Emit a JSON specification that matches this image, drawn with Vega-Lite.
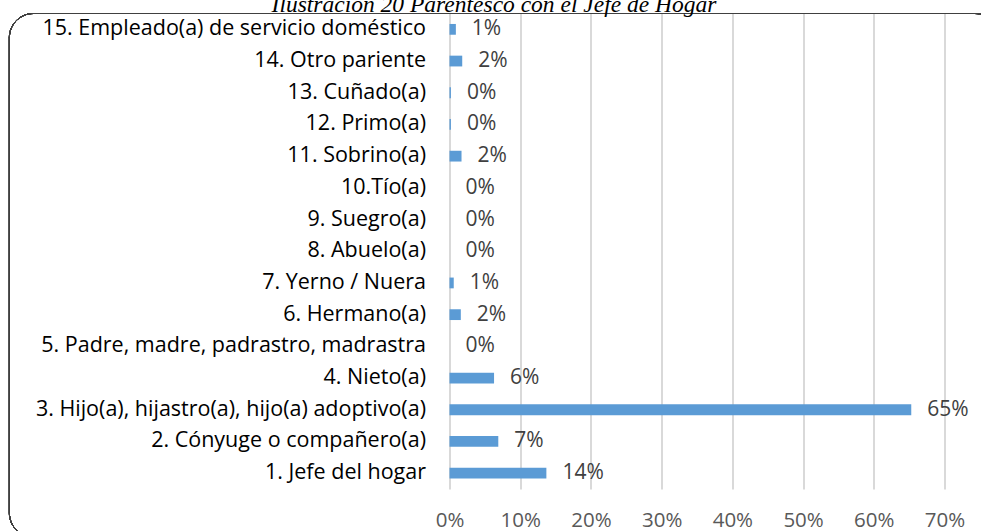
{
  "$schema": "https://vega.github.io/schema/vega-lite/v6.json",
  "width": 495,
  "height": 475.5,
  "autosize": {"type": "none"},
  "padding": {"left": 449.5, "top": 13.5, "right": 36.5, "bottom": 42},
  "background": "white",
  "title": {
    "text": "Ilustración 20 Parentesco con el Jefe de Hogar",
    "font": "Liberation Serif",
    "fontStyle": "italic",
    "fontWeight": "normal",
    "fontSize": 23.5,
    "color": "#000000",
    "anchor": "middle",
    "baseline": "alphabetic",
    "offset": -22,
    "dx": -203
  },
  "data": {
    "values": [
      {"cat": "15. Empleado(a) de servicio doméstico", "pct": 0.009},
      {"cat": "14. Otro pariente", "pct": 0.018},
      {"cat": "13. Cuñado(a)", "pct": 0.002},
      {"cat": "12. Primo(a)", "pct": 0.002},
      {"cat": "11. Sobrino(a)", "pct": 0.017},
      {"cat": "10.Tío(a)", "pct": 0},
      {"cat": "9. Suegro(a)", "pct": 0},
      {"cat": "8. Abuelo(a)", "pct": 0},
      {"cat": "7. Yerno / Nuera", "pct": 0.006},
      {"cat": "6. Hermano(a)", "pct": 0.016},
      {"cat": "5. Padre, madre, padrastro, madrastra", "pct": 0},
      {"cat": "4. Nieto(a)", "pct": 0.063},
      {"cat": "3. Hijo(a), hijastro(a), hijo(a) adoptivo(a)", "pct": 0.653},
      {"cat": "2. Cónyuge o compañero(a)", "pct": 0.069},
      {"cat": "1. Jefe del hogar", "pct": 0.137}
    ]
  },
  "layer": [
    {
      "layer": [
        {
          "mark": {"type": "bar", "color": "#5B9BD5"},
          "encoding": {
            "y": {
              "field": "cat", "type": "nominal", "sort": null,
              "scale": {"paddingInner": 0.66, "paddingOuter": 0.33},
              "axis": {"title": null, "domain": false, "ticks": false, "tickSize": 0, "labelPadding": 24, "labelLimit": 0, "labelFont": "Open Sans", "labelFontSize": 21.5, "labelColor": "#000000"}
            },
            "x": {
              "field": "pct", "type": "quantitative",
              "scale": {"domain": [0, 0.7], "nice": false, "zero": true},
              "axis": {"title": null, "format": ".0%", "values": [0, 0.1, 0.2, 0.3, 0.4, 0.5, 0.6, 0.7], "domain": false, "ticks": false, "tickSize": 0, "grid": true, "gridColor": "#d9d9d9", "gridWidth": 2, "labelFlush": false, "labelFont": "Open Sans", "labelFontSize": 20.5, "labelColor": "#595959", "labelBaseline": "middle", "labelPadding": 31}
            }
          }
        },
        {
          "mark": {"type": "text", "align": "left", "baseline": "middle", "dx": 16, "font": "Open Sans", "fontSize": 21, "color": "#404040"},
          "encoding": {
            "y": {"field": "cat", "type": "nominal", "sort": null},
            "x": {"field": "pct", "type": "quantitative"},
            "text": {"field": "pct", "type": "quantitative", "format": ".0%"}
          }
        }
      ]
    },
    {
      "mark": {"type": "rect", "fill": null, "fillOpacity": 0, "stroke": "#404040", "strokeWidth": 1, "cornerRadius": 24},
      "encoding": {
        "x": {"datum": -0.6224, "type": "quantitative"},
        "x2": {"datum": 0.777},
        "y": {"datum": 1, "type": "quantitative", "scale": {"domain": [0, 1], "nice": false, "zero": false}, "axis": null},
        "y2": {"datum": -0.101}
      }
    }
  ],
  "resolve": {"scale": {"y": "independent"}},
  "config": {"view": {"stroke": null}}
}
